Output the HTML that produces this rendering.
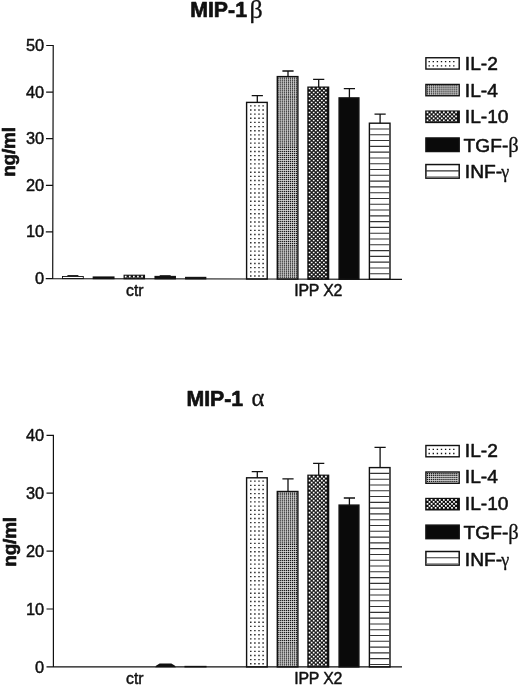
<!DOCTYPE html>
<html lang="en"><head><meta charset="utf-8"><title>MIP-1 chemokine production</title>
<style>html,body{margin:0;padding:0;background:#fff}svg{display:block}text{font-family:"Liberation Sans",sans-serif;fill:#111;stroke:#111;stroke-width:.45px;stroke-linejoin:round}.g{font-family:"Liberation Serif",serif;stroke-width:.3px}.b{font-weight:bold;stroke-width:.65px}.l{stroke-width:.55px}</style>
</head><body>
<svg width="520" height="686" viewBox="0 0 520 686">
<rect width="520" height="686" fill="#fff"/>
<text x="190.2" y="17.2" font-size="21.3" class="b">MIP-1</text>
<text x="249.6" y="17.9" font-size="26" class="g">β</text>
<text transform="translate(15 152) rotate(-90)" font-size="19" class="b" text-anchor="middle" letter-spacing="-.2">ng/ml</text>
<text x="44.2" y="283.95" font-size="16.4" text-anchor="end">0</text>
<text x="44.2" y="237.34" font-size="16.4" text-anchor="end">10</text>
<text x="44.2" y="190.73" font-size="16.4" text-anchor="end">20</text>
<text x="44.2" y="144.12" font-size="16.4" text-anchor="end">30</text>
<text x="44.2" y="97.51" font-size="16.4" text-anchor="end">40</text>
<text x="44.2" y="50.9" font-size="16.4" text-anchor="end">50</text>
<rect x="246.6" y="102.4" width="20.6" height="176.61" fill="#fff" stroke="#111" stroke-width="1.4"/>
<path d="M250.8 105.13V278.31M254.9 105.13V278.31M259 105.13V278.31M263.1 105.13V278.31" fill="none" stroke="#111" stroke-width="1.35" stroke-dasharray="1.35 2.8"/>
<path d="M257.3 102.4V95.7M251.7 95.7H262.9" fill="none" stroke="#111" stroke-width="1.3"/>
<rect x="277.3" y="76.6" width="20.6" height="202.48" fill="#e4e4e4" stroke="#111" stroke-width="1.4"/>
<path d="M278.8 77.47V278.38M280.76 77.47V278.38M282.72 77.47V278.38M284.68 77.47V278.38M286.64 77.47V278.38M288.6 77.47V278.38M290.56 77.47V278.38M292.52 77.47V278.38M294.48 77.47V278.38M296.44 77.47V278.38" fill="none" stroke="#111" stroke-width="1.25" stroke-dasharray="1.25 0.74"/>
<path d="M288 76.6V71M282.4 71H293.6" fill="none" stroke="#111" stroke-width="1.3"/>
<rect x="308" y="87.2" width="20.6" height="191.95" fill="#111" stroke="#111" stroke-width="1.4"/>
<path d="M309.6 87.65V278.45M313.68 87.65V278.45M317.76 87.65V278.45M321.84 87.65V278.45M325.92 87.65V278.45" fill="none" stroke="#fff" stroke-width="1.7" stroke-dasharray="1.7 2.3"/>
<path d="M311.64 89.65V278.45M315.72 89.65V278.45M319.8 89.65V278.45M323.88 89.65V278.45" fill="none" stroke="#fff" stroke-width="1.7" stroke-dasharray="1.7 2.3"/>
<path d="M318.7 87.2V79.3M313.1 79.3H324.3" fill="none" stroke="#111" stroke-width="1.3"/>
<rect x="339.1" y="97.9" width="19.8" height="181.32" fill="#0a0a0a" stroke="#111" stroke-width="1.4"/>
<path d="M349.4 97.9V88.6M343.8 88.6H355" fill="none" stroke="#111" stroke-width="1.3"/>
<rect x="369.4" y="123.2" width="20.6" height="156.09" fill="#fff" stroke="#111" stroke-width="1.4"/>
<path d="M370.1 128.99H389.3M370.1 134.78H389.3M370.1 140.57H389.3M370.1 146.36H389.3M370.1 152.15H389.3M370.1 157.94H389.3M370.1 163.73H389.3M370.1 169.52H389.3M370.1 175.31H389.3M370.1 181.1H389.3M370.1 186.89H389.3M370.1 192.68H389.3M370.1 198.47H389.3M370.1 204.26H389.3M370.1 210.05H389.3M370.1 215.84H389.3M370.1 221.63H389.3M370.1 227.42H389.3M370.1 233.21H389.3M370.1 239H389.3M370.1 244.79H389.3M370.1 250.58H389.3M370.1 256.37H389.3M370.1 262.16H389.3M370.1 267.95H389.3M370.1 273.74H389.3" fill="none" stroke="#333" stroke-width="1.1"/>
<path d="M380.1 123.2V114.1M374.5 114.1H385.7" fill="none" stroke="#111" stroke-width="1.3"/>
<rect x="62.5" y="276.5" width="20.8" height="2.1" fill="#fff" stroke="#111" stroke-width="0.9"/>
<path d="M67.4 275.6H78.4" stroke="#111" stroke-width="1"/>
<rect x="93.2" y="276.97" width="20.8" height="1.7" fill="#111" stroke="#111" stroke-width="1.1"/>
<rect x="124.1" y="275.24" width="20.4" height="3.5" fill="#111" stroke="#111" stroke-width="1.1"/>
<path d="M125.7 275.69V278.19M129.78 275.69V278.19M133.86 275.69V278.19M137.94 275.69V278.19M142.02 275.69V278.19" fill="none" stroke="#fff" stroke-width="1.7" stroke-dasharray="1.7 2.3"/>
<path d="M127.74 277.69V278.19M131.82 277.69V278.19M135.9 277.69V278.19M139.98 277.69V278.19" fill="none" stroke="#fff" stroke-width="1.7" stroke-dasharray="1.7 2.3"/>
<rect x="155" y="276.41" width="20.4" height="2.4" fill="#111" stroke="#111" stroke-width="1.1"/>
<path d="M159.7 275.71H170.7" stroke="#111" stroke-width="1"/>
<rect x="185.6" y="277.37" width="20.2" height="1.5" fill="#111" stroke="#111" stroke-width="1.1"/>
<path transform="rotate(0.13 52.7 278.55)" d="M52.7 44.9V278.55H402M45.7 278.55H52.7M45.7 231.94H52.7M45.7 185.33H52.7M45.7 138.72H52.7M45.7 92.11H52.7M45.7 45.5H52.7" fill="none" stroke="#111" stroke-width="1.2"/>
<text x="134.8" y="296.3" font-size="15.8" text-anchor="middle">ctr</text>
<text x="318.2" y="296.3" font-size="15.9" text-anchor="middle" letter-spacing="-.2">IPP X2</text>
<rect x="425.9" y="57.75" width="33.3" height="11.3" fill="#fff" stroke="#111" stroke-width="1.4"/>
<path d="M429.2 60.98V68.35M433.3 60.98V68.35M437.4 60.98V68.35M441.5 60.98V68.35M445.6 60.98V68.35M449.7 60.98V68.35M453.8 60.98V68.35" fill="none" stroke="#111" stroke-width="1.35" stroke-dasharray="1.35 2.8"/>
<text x="464.8" y="70.2" font-size="19.2" class="l">IL-2</text>
<rect x="425.9" y="84.45" width="33.3" height="11.3" fill="#e4e4e4" stroke="#111" stroke-width="1.4"/>
<path d="M427.4 85.33V95.05M429.36 85.33V95.05M431.32 85.33V95.05M433.28 85.33V95.05M435.24 85.33V95.05M437.2 85.33V95.05M439.16 85.33V95.05M441.12 85.33V95.05M443.08 85.33V95.05M445.04 85.33V95.05M447 85.33V95.05M448.96 85.33V95.05M450.92 85.33V95.05M452.88 85.33V95.05M454.84 85.33V95.05M456.8 85.33V95.05" fill="none" stroke="#111" stroke-width="1.25" stroke-dasharray="1.25 0.74"/>
<text x="464.8" y="96.7" font-size="19.2" class="l">IL-4</text>
<rect x="425.9" y="111.15" width="33.3" height="11.3" fill="#111" stroke="#111" stroke-width="1.4"/>
<path d="M427.5 111.6V121.75M431.58 111.6V121.75M435.66 111.6V121.75M439.74 111.6V121.75M443.82 111.6V121.75M447.9 111.6V121.75M451.98 111.6V121.75M456.06 111.6V121.75" fill="none" stroke="#fff" stroke-width="1.7" stroke-dasharray="1.7 2.3"/>
<path d="M429.54 113.6V121.75M433.62 113.6V121.75M437.7 113.6V121.75M441.78 113.6V121.75M445.86 113.6V121.75M449.94 113.6V121.75M454.02 113.6V121.75" fill="none" stroke="#fff" stroke-width="1.7" stroke-dasharray="1.7 2.3"/>
<text x="464.8" y="123.2" font-size="19.2" class="l">IL-10</text>
<rect x="425.9" y="137.95" width="33.3" height="13.6" fill="#0a0a0a" stroke="#111" stroke-width="1.4"/>
<text x="463.6" y="151.5" font-size="19.2" class="l">TGF-<tspan class="g" font-size="20.5" dy="0.8">β</tspan></text>
<rect x="425.9" y="164.55" width="33.3" height="13.6" fill="#fff" stroke="#111" stroke-width="1.5"/>
<path d="M425.9 170.85H459.2" stroke="#333" stroke-width="1.1"/>
<path d="M425.9 176.85H459.2" stroke="#777" stroke-width="1"/>
<text x="464.8" y="178.2" font-size="19.2" class="l">INF-<tspan class="g" font-size="18" dx="-0.8">γ</tspan></text>
<text x="186.4" y="405.5" font-size="21.3" class="b">MIP-1</text>
<text x="251.6" y="405.5" font-size="24.5" class="g">α</text>
<text transform="translate(15.7 541.9) rotate(-90)" font-size="19" class="b" text-anchor="middle" letter-spacing="-.2">ng/ml</text>
<text x="44.2" y="672.5" font-size="16.4" text-anchor="end">0</text>
<text x="44.2" y="614.6" font-size="16.4" text-anchor="end">10</text>
<text x="44.2" y="556.7" font-size="16.4" text-anchor="end">20</text>
<text x="44.2" y="498.8" font-size="16.4" text-anchor="end">30</text>
<text x="44.2" y="440.9" font-size="16.4" text-anchor="end">40</text>
<rect x="246.6" y="477.8" width="20.6" height="189.1" fill="#fff" stroke="#111" stroke-width="1.4"/>
<path d="M250.8 480.52V666.2M254.9 480.52V666.2M259 480.52V666.2M263.1 480.52V666.2" fill="none" stroke="#111" stroke-width="1.35" stroke-dasharray="1.35 2.8"/>
<path d="M257.3 477.8V471.7M251.7 471.7H262.9" fill="none" stroke="#111" stroke-width="1.3"/>
<rect x="277.3" y="491.5" width="20.6" height="175.4" fill="#e4e4e4" stroke="#111" stroke-width="1.4"/>
<path d="M278.8 492.38V666.2M280.76 492.38V666.2M282.72 492.38V666.2M284.68 492.38V666.2M286.64 492.38V666.2M288.6 492.38V666.2M290.56 492.38V666.2M292.52 492.38V666.2M294.48 492.38V666.2M296.44 492.38V666.2" fill="none" stroke="#111" stroke-width="1.25" stroke-dasharray="1.25 0.74"/>
<path d="M288 491.5V478.8M282.4 478.8H293.6" fill="none" stroke="#111" stroke-width="1.3"/>
<rect x="308" y="475.3" width="20.6" height="191.6" fill="#111" stroke="#111" stroke-width="1.4"/>
<path d="M309.6 475.75V666.2M313.68 475.75V666.2M317.76 475.75V666.2M321.84 475.75V666.2M325.92 475.75V666.2" fill="none" stroke="#fff" stroke-width="1.7" stroke-dasharray="1.7 2.3"/>
<path d="M311.64 477.75V666.2M315.72 477.75V666.2M319.8 477.75V666.2M323.88 477.75V666.2" fill="none" stroke="#fff" stroke-width="1.7" stroke-dasharray="1.7 2.3"/>
<path d="M318.7 475.3V463.4M313.1 463.4H324.3" fill="none" stroke="#111" stroke-width="1.3"/>
<rect x="339.1" y="505.1" width="19.8" height="161.8" fill="#0a0a0a" stroke="#111" stroke-width="1.4"/>
<path d="M349.4 505.1V498M343.8 498H355" fill="none" stroke="#111" stroke-width="1.3"/>
<rect x="369.4" y="467.6" width="20.6" height="199.3" fill="#fff" stroke="#111" stroke-width="1.4"/>
<path d="M370.1 473.39H389.3M370.1 479.18H389.3M370.1 484.97H389.3M370.1 490.76H389.3M370.1 496.55H389.3M370.1 502.34H389.3M370.1 508.13H389.3M370.1 513.92H389.3M370.1 519.71H389.3M370.1 525.5H389.3M370.1 531.29H389.3M370.1 537.08H389.3M370.1 542.87H389.3M370.1 548.66H389.3M370.1 554.45H389.3M370.1 560.24H389.3M370.1 566.03H389.3M370.1 571.82H389.3M370.1 577.61H389.3M370.1 583.4H389.3M370.1 589.19H389.3M370.1 594.98H389.3M370.1 600.77H389.3M370.1 606.56H389.3M370.1 612.35H389.3M370.1 618.14H389.3M370.1 623.93H389.3M370.1 629.72H389.3M370.1 635.51H389.3M370.1 641.3H389.3M370.1 647.09H389.3M370.1 652.88H389.3M370.1 658.67H389.3M370.1 664.46H389.3" fill="none" stroke="#333" stroke-width="1.1"/>
<path d="M380.1 467.6V447.4M374.5 447.4H385.7" fill="none" stroke="#111" stroke-width="1.3"/>
<rect x="185" y="666.4" width="21" height="0.5" fill="#111" stroke="#111" stroke-width="1.1"/>
<path d="M53.4 434.7V666.9H402M46.5 666.9H53.4M46.5 609H53.4M46.5 551.1H53.4M46.5 493.2H53.4M46.5 435.3H53.4" fill="none" stroke="#111" stroke-width="1.2"/>
<text x="134.8" y="683.9" font-size="15.8" text-anchor="middle">ctr</text>
<text x="318.2" y="683.9" font-size="15.9" text-anchor="middle" letter-spacing="-.2">IPP X2</text>
<rect x="425.9" y="445.5" width="33.3" height="11.3" fill="#fff" stroke="#111" stroke-width="1.4"/>
<path d="M429.2 448.72V456.1M433.3 448.72V456.1M437.4 448.72V456.1M441.5 448.72V456.1M445.6 448.72V456.1M449.7 448.72V456.1M453.8 448.72V456.1" fill="none" stroke="#111" stroke-width="1.35" stroke-dasharray="1.35 2.8"/>
<text x="464.8" y="456.75" font-size="19.2" class="l">IL-2</text>
<rect x="425.9" y="472" width="33.3" height="11.3" fill="#e4e4e4" stroke="#111" stroke-width="1.4"/>
<path d="M427.4 472.88V482.6M429.36 472.88V482.6M431.32 472.88V482.6M433.28 472.88V482.6M435.24 472.88V482.6M437.2 472.88V482.6M439.16 472.88V482.6M441.12 472.88V482.6M443.08 472.88V482.6M445.04 472.88V482.6M447 472.88V482.6M448.96 472.88V482.6M450.92 472.88V482.6M452.88 472.88V482.6M454.84 472.88V482.6M456.8 472.88V482.6" fill="none" stroke="#111" stroke-width="1.25" stroke-dasharray="1.25 0.74"/>
<text x="464.8" y="483.45" font-size="19.2" class="l">IL-4</text>
<rect x="425.9" y="498.5" width="33.3" height="11.3" fill="#111" stroke="#111" stroke-width="1.4"/>
<path d="M427.5 498.95V509.1M431.58 498.95V509.1M435.66 498.95V509.1M439.74 498.95V509.1M443.82 498.95V509.1M447.9 498.95V509.1M451.98 498.95V509.1M456.06 498.95V509.1" fill="none" stroke="#fff" stroke-width="1.7" stroke-dasharray="1.7 2.3"/>
<path d="M429.54 500.95V509.1M433.62 500.95V509.1M437.7 500.95V509.1M441.78 500.95V509.1M445.86 500.95V509.1M449.94 500.95V509.1M454.02 500.95V509.1" fill="none" stroke="#fff" stroke-width="1.7" stroke-dasharray="1.7 2.3"/>
<text x="464.8" y="510.15" font-size="19.2" class="l">IL-10</text>
<rect x="425.9" y="525.1" width="33.3" height="13.6" fill="#0a0a0a" stroke="#111" stroke-width="1.4"/>
<text x="463.6" y="538.65" font-size="19.2" class="l">TGF-<tspan class="g" font-size="20.5" dy="0.8">β</tspan></text>
<rect x="425.9" y="551.5" width="33.3" height="13.6" fill="#fff" stroke="#111" stroke-width="1.5"/>
<path d="M425.9 557.8H459.2" stroke="#333" stroke-width="1.1"/>
<path d="M425.9 563.8H459.2" stroke="#777" stroke-width="1"/>
<text x="464.8" y="565.55" font-size="19.2" class="l">INF-<tspan class="g" font-size="18" dx="-0.8">γ</tspan></text>
<path d="M155.2 667.3L156.4 665.4L159.6 663.6H171.4L174.6 665.4L175.9 667.3z" fill="#111"/>
</svg>
</body></html>
